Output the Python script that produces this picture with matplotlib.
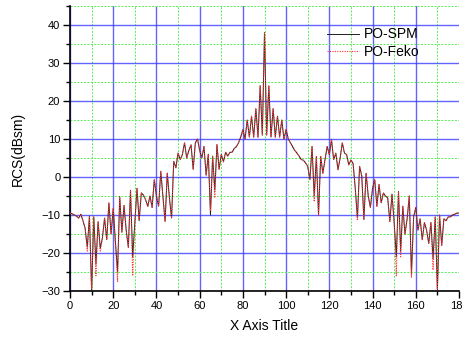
import numpy as np
import matplotlib
matplotlib.use("Agg")
import matplotlib.pyplot as plt
from matplotlib.ticker import MultipleLocator, FixedLocator

plt.rcParams["font.family"] = ["Liberation Sans", "DejaVu Sans"]

# angle in degrees, one sample per degree
angles = list(range(0, 181))

# PO-SPM (dBsm)
po_spm = [
    -9.5, -9.7, -10.0, -10.3, -10.8, -9.8, -11.5, -13.5, -18.5, -10.3,    # 0-9
    -30.0, -10.5, -23.0, -11.8, -18.8, -16.0, -10.8, -16.5, -6.8, -15.0,  # 10-19
    -8.3, -17.0, -25.0, -5.2, -14.5, -7.5, -14.0, -18.5, -3.5, -21.0,     # 20-29
    -12.0, -3.0, -11.5, -4.2, -4.8, -6.0, -7.7, -5.0, -8.0, -0.7,         # 30-39
    -5.0, -7.7, 1.5, -5.0, -11.7, 1.0, -5.5, -10.8, 4.1, 2.4,             # 40-49
    6.3, 4.6, 5.9, 9.0, 5.0, 7.0, 8.5, 2.0, 9.0, 10.0,                    # 50-59
    7.0, 5.0, 8.0, 0.5, 6.0, -10.0, 5.5, -3.5, 8.5, 2.0,                  # 60-69
    6.0, 4.0, 6.5, 5.5, 6.5, 6.5, 7.5, 8.0, 9.0, 10.5,                    # 70-79
    12.5, 10.0, 15.0, 10.5, 16.0, 10.5, 18.0, 10.5, 24.0, 11.0,           # 80-89
    38.0,                                                                # 90
    11.0, 24.0, 10.5, 18.0, 10.5, 16.0, 10.5, 15.0, 10.0,                 # 91-99
    12.5, 10.0, 9.0, 8.0, 7.0, 6.3, 5.5, 4.6, 4.4, 3.7,                   # 100-109
    2.8, -0.7, 8.0, -5.0, 5.4, -10.0, 5.4, 1.0, 4.6, 8.0,                 # 110-119
    5.9, 9.8, 4.6, 6.3, 1.9, 5.0, 9.0, 6.3, 5.9, 3.2,                     # 120-129
    4.5, 3.5, -3.0, -10.8, 2.8, 0.3, -11.2, 1.0, -5.0, -8.0,              # 130-139
    -3.0, -0.7, -7.7, -2.0, -6.8, -4.2, -5.0, -5.5, -11.7, -4.5,          # 140-149
    -12.0, -21.0, -3.8, -19.5, -7.7, -15.0, -11.0, -5.0, -25.5, -10.5,    # 150-159
    -8.0, -14.0, -11.0, -16.5, -12.0, -14.0, -17.5, -12.0, -21.5, -10.5,  # 160-169
    -30.0, -10.0, -18.0, -11.0, -11.5, -10.5, -10.5, -10.0, -9.8, -9.5,   # 170-179
    -9.5,                                                                # 180
]

# PO-Feko follows PO-SPM except at these angles
feko_diff = {
    8: -19.5, 10: -29.5, 12: -26.0, 14: -19.5, 22: -27.5, 29: -26.0,
    65: -9.0, 67: -5.5, 113: -6.5, 133: -11.5, 151: -26.0, 153: -21.0,
    158: -26.5, 168: -24.5, 170: -29.5,
}
po_feko = [feko_diff.get(a, v) for a, v in zip(angles, po_spm)]

fig = plt.figure(figsize=(4.63, 3.39), dpi=100)
ax = fig.add_axes([70 / 463, 48 / 339, 389 / 463, 285 / 339])

ax.plot(angles, po_spm, color="#202020", lw=0.7, label="PO-SPM", zorder=3)
ax.plot(angles, po_feko, color="#ff3030", lw=0.8, ls=(0, (1, 1.2)), label="PO-Feko", zorder=4)

ax.set_xlim(0, 180)
ax.set_ylim(-30, 45)
ax.xaxis.set_major_locator(FixedLocator(range(0, 181, 20)))
ax.xaxis.set_minor_locator(MultipleLocator(10))
ax.yaxis.set_major_locator(FixedLocator(range(-30, 41, 10)))
ax.yaxis.set_minor_locator(MultipleLocator(5))

ax.grid(which="major", color="#3c3cff", lw=1.0, alpha=0.8)
ax.grid(which="minor", color="#55ee55", lw=0.7, ls=(0, (2, 1.5)))
ax.set_axisbelow(True)

for side in ["top", "right"]:
    ax.spines[side].set_visible(False)
for side in ["left", "bottom"]:
    ax.spines[side].set_linewidth(1.2)

ax.tick_params(which="major", direction="out", length=5, width=1.0, labelsize=8, pad=2)
ax.tick_params(which="minor", direction="out", length=3, width=1.0)

ax.set_xlabel("X Axis Title", fontsize=10, labelpad=6)
ax.set_ylabel("RCS(dBsm)", fontsize=10, labelpad=12)

ax.legend(loc="upper left", bbox_to_anchor=(0.66, 0.925), frameon=False,
          fontsize=10, handlelength=2.3, handletextpad=0.4, labelspacing=0.25,
          borderpad=0, borderaxespad=0)

fig.canvas.draw()
ax.get_xgridlines()[-1].set_visible(False)

plt.savefig("out.png", dpi=100)
plt.close()
